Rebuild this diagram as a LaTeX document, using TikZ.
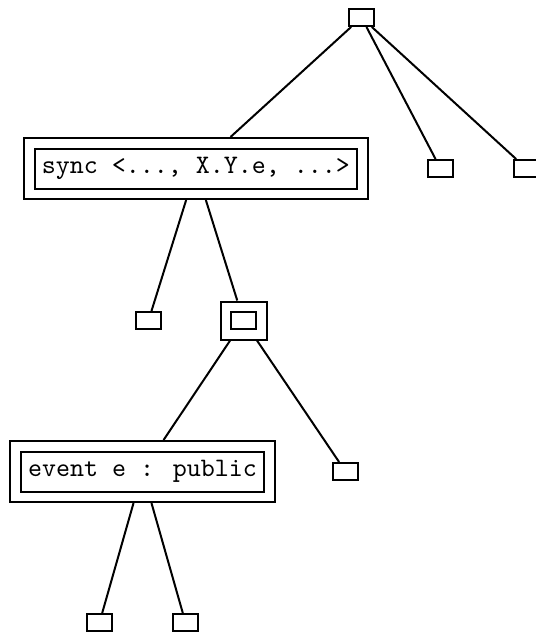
\documentclass[tikz,border=0pt]{standalone}
\usetikzlibrary{fit}
\tikzset{
  every path/.style={line width=0.75pt},
  leaf/.style={draw, rectangle, inner sep=0pt, minimum width=9.375pt, minimum height=6.375pt},
  label box/.style={draw, rectangle, font=\ttfamily, inner xsep=2.8pt, inner ysep=3.25pt,
    text height=6.2pt, text depth=2.3pt},
  frame box/.style={draw, rectangle, inner sep=3.5625pt},
  branch/.style={line width=0.75pt}
}
\begin{document}
\begin{tikzpicture}[x=0.375pt, y=-0.375pt]
  \useasboundingbox (0,0) rectangle (535,633);

  % root and its children
  \node[leaf] (root) at (361.5,17.5) {};
  \node[label box] (syncIn) at (196,168.5) {sync <..., X.Y.e, ...>};
  \node[frame box, fit=(syncIn)] (sync) {};
  \node[leaf] (t2) at (440.5,168.5) {};
  \node[leaf] (t3) at (526.5,168.5) {};

  % second level
  \node[leaf] (s1) at (148.5,320.5) {};
  \node[leaf] (s2In) at (243.5,320.5) {};
  \node[frame box, fit=(s2In)] (s2) {};

  % third level
  \node[label box] (evIn) at (142.5,471.5) {event e : public};
  \node[frame box, fit=(evIn)] (ev) {};
  \node[leaf] (d2) at (345.5,471.5) {};

  % leaves under the event
  \node[leaf] (e1) at (99.5,622.5) {};
  \node[leaf] (e2) at (185.5,622.5) {};

  % branches
  \draw[branch] (root) -- (sync);
  \draw[branch] (root) -- (t2);
  \draw[branch] (root) -- (t3);
  \draw[branch] (sync) -- (s1);
  \draw[branch] (sync) -- (s2);
  \draw[branch] (s2) -- (ev);
  \draw[branch] (s2) -- (d2);
  \draw[branch] (ev) -- (e1);
  \draw[branch] (ev) -- (e2);
\end{tikzpicture}
\end{document}
